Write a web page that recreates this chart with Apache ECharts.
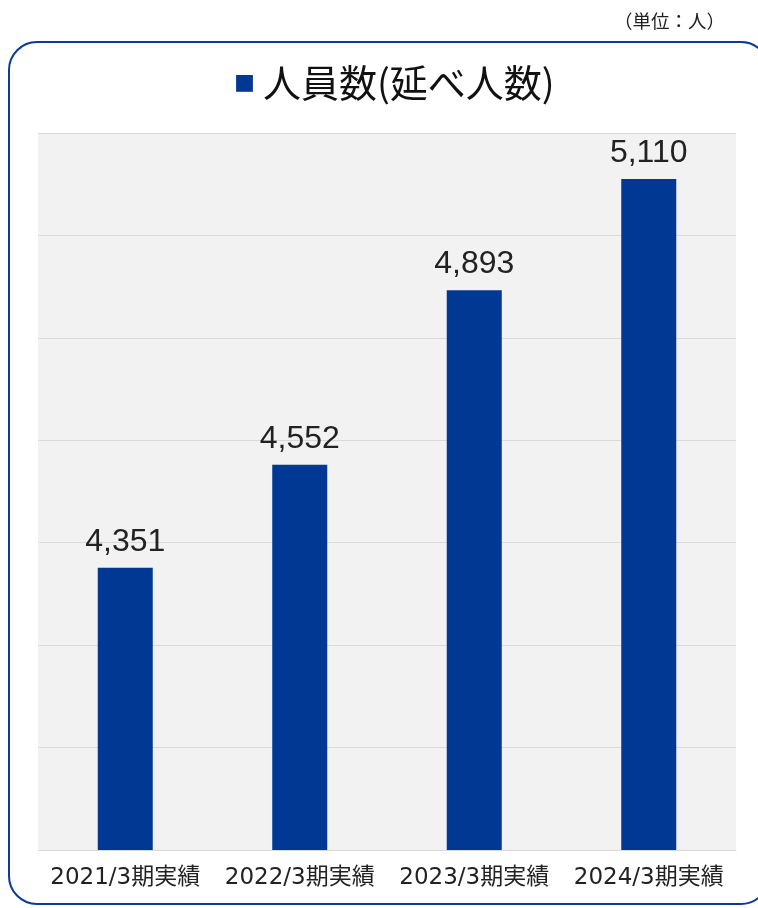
<!DOCTYPE html>
<html>
<head>
<meta charset="utf-8">
<script src="https://cdn.jsdelivr.net/npm/echarts@6/dist/echarts.min.js"></script>
<style>
  html, body { margin: 0; padding: 0; background: #fff; }
  #chart { width: 758px; height: 908px; }
</style>
</head>
<body>
<div id="chart"></div>
<script>
// データ
const categories = ['2021/3期実績', '2022/3期実績', '2023/3期実績', '2024/3期実績'];
const values = [4351, 4552, 4893, 5110];
const titleText = '人員数(延べ人数)';
const unitText = '（単位：人）';

const chart = echarts.init(document.getElementById('chart'));
const cjk = '"Noto Sans CJK JP", sans-serif';

const option = {
  animation: false,
  textStyle: { fontFamily: cjk },
  graphic: [
    {
      // 外枠
      type: 'rect',
      shape: { x: 9, y: 42, width: 760, height: 862, r: 28 },
      style: { fill: 'none', stroke: '#0b3b95', lineWidth: 2 }
    },
    {
      type: 'text',
      x: 725, y: 12,
      style: { text: unitText, fontSize: 18.5, fill: '#222', fontFamily: cjk, align: 'right' }
    }
  ],
  title: {
    text: '{sq|■}' + titleText,
    left: 229,
    top: 59,
    textStyle: {
      fontSize: 38,
      fontWeight: 'normal',
      color: '#111',
      fontFamily: cjk,
      rich: {
        sq: { fontSize: 21, color: '#003893', padding: [0, 8, 0, 0], fontFamily: cjk }
      }
    }
  },
  grid: { left: 38, right: 22, top: 133, bottom: 58, show: true, backgroundColor: '#f2f2f2', borderWidth: 0 },
  xAxis: {
    type: 'category',
    data: categories,
    axisLine: { show: true, lineStyle: { color: '#d9d9d9', width: 1 } },
    axisTick: { show: false },
    axisLabel: {
      interval: 0,
      fontSize: 23,
      color: '#222',
      margin: 17,
      fontFamily: '"DejaVu Sans", "Noto Sans CJK JP", sans-serif'
    }
  },
  yAxis: {
    type: 'value',
    min: 3800,
    max: 5200,
    interval: 200,
    axisLabel: { show: false },
    axisLine: { show: false },
    axisTick: { show: false },
    splitLine: { lineStyle: { color: '#d9d9d9', width: 1 } }
  },
  series: [
    {
      type: 'bar',
      data: values,
      barWidth: 55,
      itemStyle: { color: '#003893' },
      label: {
        show: true,
        position: 'top',
        distance: 10,
        fontSize: 32,
        color: '#222',
        fontFamily: '"Liberation Sans", Arial, sans-serif',
        formatter: p => p.value.toLocaleString('en-US')
      }
    }
  ]
};

chart.setOption(option);
</script>
</body>
</html>
